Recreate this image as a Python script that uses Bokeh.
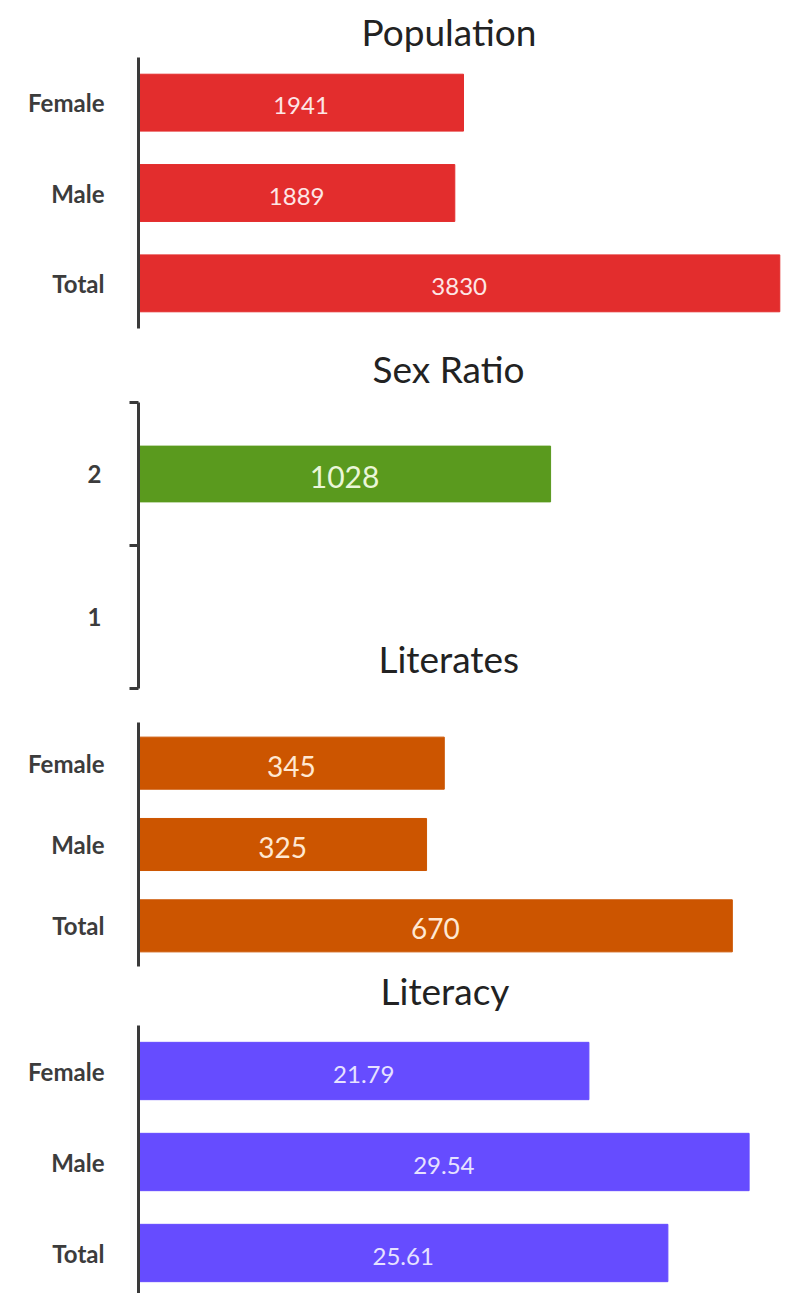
from bokeh.plotting import figure
from bokeh.layouts import column
from bokeh.models import ColumnDataSource, FixedTicker, Range1d, Label, Title
from bokeh.core.properties import value
from bokeh.embed import file_html
from bokeh.resources import INLINE

# ---- data ----
pop_cats = ["Female", "Male", "Total"]
pop_vals = [1941, 1889, 3830]

sex_cats = ["2", "1"]
sex_vals = [1028, None]

lit_cats = ["Female", "Male", "Total"]
lit_vals = [345, 325, 670]

rate_cats = ["Female", "Male", "Total"]
rate_vals = [21.79, 29.54, 25.61]

titles = ["Population", "Sex Ratio", "Literates", "Literacy"]

FONT = "Lato"
AXIS_COLOR = "#3a3a3a"
LABEL_COLOR = "#3c3c3c"
TITLE_COLOR = "#222222"
TITLE_SIZE = "37px"
W = 785


def panel(cats, vals, color, x_end, height, y_start, border_top,
          border_bottom, border_left, bar_h, val_size, val_color,
          label_standoff, boundary_ticks=False):
    n = len(cats)
    pos = [n - i - 0.5 for i in range(n)]
    keep = [i for i, v in enumerate(vals) if v is not None]
    src = ColumnDataSource(dict(
        y=[pos[i] for i in keep],
        v=[vals[i] for i in keep],
        mid=[vals[i] / 2 for i in keep],
        txt=[str(vals[i]) for i in keep],
    ))
    p = figure(width=W, height=height,
               x_range=Range1d(0, x_end), y_range=Range1d(y_start, n),
               output_backend="svg", toolbar_location=None,
               min_border_left=border_left, min_border_right=0,
               min_border_top=border_top, min_border_bottom=border_bottom,
               outline_line_color=None)
    p.hbar(y="y", left=0, right="v", height=bar_h, color=color, source=src)
    p.text(x="mid", y="y", text="txt", source=src, text_align="center",
           text_baseline="middle", y_offset=3, text_font=value(FONT),
           text_font_size=val_size, text_color=val_color)
    p.xaxis.visible = False
    p.xgrid.visible = False
    p.ygrid.visible = False

    ax = p.yaxis[0]
    if boundary_ticks:
        ax.ticker = FixedTicker(ticks=pos, minor_ticks=list(range(n + 1)))
        ax.minor_tick_out = 9
        ax.minor_tick_in = 0
        ax.minor_tick_line_width = 3
        ax.minor_tick_line_color = AXIS_COLOR
    else:
        ax.ticker = FixedTicker(ticks=pos, minor_ticks=[])
        ax.minor_tick_out = 0
        ax.minor_tick_in = 0
    ax.major_label_overrides = {pos[i]: cats[i] for i in range(n)}
    ax.major_tick_out = 0
    ax.major_tick_in = 0
    ax.axis_line_width = 3
    ax.axis_line_color = AXIS_COLOR
    ax.major_label_standoff = label_standoff
    ax.major_label_text_font = FONT
    ax.major_label_text_font_size = "24px"
    ax.major_label_text_font_style = "bold"
    ax.major_label_text_color = LABEL_COLOR
    return p


def set_title(t, text, offset, standoff, valign="bottom"):
    t.text = text
    t.align = "left"
    t.offset = offset
    t.standoff = standoff
    t.vertical_align = valign
    t.text_font = FONT
    t.text_font_size = TITLE_SIZE
    t.text_font_style = "normal"
    t.text_color = TITLE_COLOR


# ---- panel 1: Population ----
X1 = 3864
p1 = panel(pop_cats, pop_vals, "#E32D2D", X1, 330, 0, 57, 2, 132,
           0.63, "24px", "#fde6e6", 34)
set_title(p1.title, titles[0], 223, 8)

# ---- panel 2: Sex Ratio ----
X2 = 1614
p2 = panel(sex_cats, sex_vals, "#5A9A1E", X2, 370, 0, 72, 12, 138,
           0.39, "30px", "#eaf6d8", 28, boundary_ticks=True)
set_title(p2.title, titles[1], 234, 24)
# heading of the Literates panel sits in the empty lower band of this panel
p2.add_layout(Label(x=774, y=0.21, text=titles[2], text_align="center",
                    text_baseline="middle", text_font=FONT,
                    text_font_size=TITLE_SIZE, text_color=TITLE_COLOR))

# ---- panel 3: Literates (its lower border carries the Literacy heading) ----
X3 = 730
p3 = panel(lit_cats, lit_vals, "#CC5500", X3, 320, 0, 22, 54, 132,
           0.64, "28px", "#ffe8d2", 34)
t4 = Title()
set_title(t4, titles[3], 242, 2, valign="top")
p3.add_layout(t4, "below")

# ---- panel 4: Literacy ----
X4 = 31.3
H4 = 273
p4 = panel(rate_cats, rate_vals, "#664CFF", X4, H4, 3 - (H4 - 5) / 91.0,
           5, 0, 132, 0.63, "24px", "#e6e2ff", 34)

layout = column(p1, p2, p3, p4, spacing=0)
open("out.html", "w").write(file_html(layout, INLINE))
